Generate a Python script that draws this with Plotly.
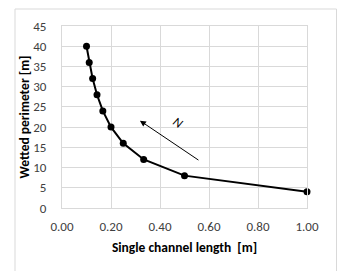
import plotly.graph_objects as go

channel_length = [0.1, 1/9, 0.125, 1/7, 1/6, 0.2, 0.25, 1/3, 0.5, 1.0]
wetted_perimeter = [40, 36, 32, 28, 24, 20, 16, 12, 8, 4]
x_ticks = [0, 0.2, 0.4, 0.6, 0.8, 1.0]
y_ticks = [0, 5, 10, 15, 20, 25, 30, 35, 40, 45]

W, H = 339, 279
L, R, T, B = 62, 32, 26, 71
pw, ph = W - L - R, H - T - B

def px(xp):
    return (xp - L) / pw

def py(yp):
    return (H - B - yp) / ph

font = "Carlito, Calibri, 'Liberation Sans', Arial, sans-serif"
grid = "#d9d9d9"

fig = go.Figure()
fig.add_trace(go.Scatter(
    x=channel_length, y=wetted_perimeter, mode="lines+markers",
    line=dict(color="black", width=2),
    marker=dict(color="black", size=7),
    showlegend=False, cliponaxis=False,
))

fig.add_annotation(
    x=0.318, y=21.6, ax=0.563, ay=11.6, xref="x", yref="y", axref="x", ayref="y",
    showarrow=True, arrowhead=2, arrowsize=1.2, arrowwidth=1, arrowcolor="black", text="",
)
fig.add_annotation(
    x=0.475, y=21.2, xref="x", yref="y", text="<i>N</i>", showarrow=False,
    textangle=34, font=dict(family=font, size=13, color="black"),
)

# y-axis title placed as annotation
fig.add_annotation(
    x=px(24), y=py(117.5), xref="paper", yref="paper", text="<b>Wetted perimeter [m]</b>",
    showarrow=False, textangle=-90, xanchor="center", yanchor="middle",
    font=dict(family=font, size=13.5, color="black"),
)

# chart frame
line_style = dict(color=grid, width=1)
fig.add_shape(type="line", xref="paper", yref="paper", x0=px(15), x1=px(15), y0=py(9), y1=py(271), line=line_style)
fig.add_shape(type="line", xref="paper", yref="paper", x0=px(336.5), x1=px(336.5), y0=py(9), y1=py(271), line=line_style)
fig.add_shape(type="line", xref="paper", yref="paper", x0=px(15), x1=px(336.5), y0=py(9), y1=py(9), line=line_style)

fig.update_layout(
    width=W, height=H, margin=dict(l=L, r=R, t=T, b=B),
    paper_bgcolor="white", plot_bgcolor="white",
    font=dict(family=font, size=13, color="#404040"),
    xaxis=dict(
        range=[0, 1.0], tickvals=x_ticks, tickformat=".2f", automargin=False,
        showgrid=True, gridcolor=grid, gridwidth=1,
        zeroline=False, showline=True, linecolor=grid, linewidth=1, mirror=True,
        ticks="", ticklabelstandoff=6,
        title=dict(text="<b>Single channel length  [m]</b>", font=dict(size=13.5, color="black"), standoff=9),
    ),
    yaxis=dict(
        range=[0, 45], tickvals=y_ticks, automargin=False,
        showgrid=True, gridcolor=grid, gridwidth=1,
        zeroline=False, showline=True, linecolor=grid, linewidth=1, mirror=True,
        ticks="", ticklabelstandoff=12,
    ),
)

fig.write_html("out.html", config={"displayModeBar": False},
               post_script="document.body.style.margin='0';")
